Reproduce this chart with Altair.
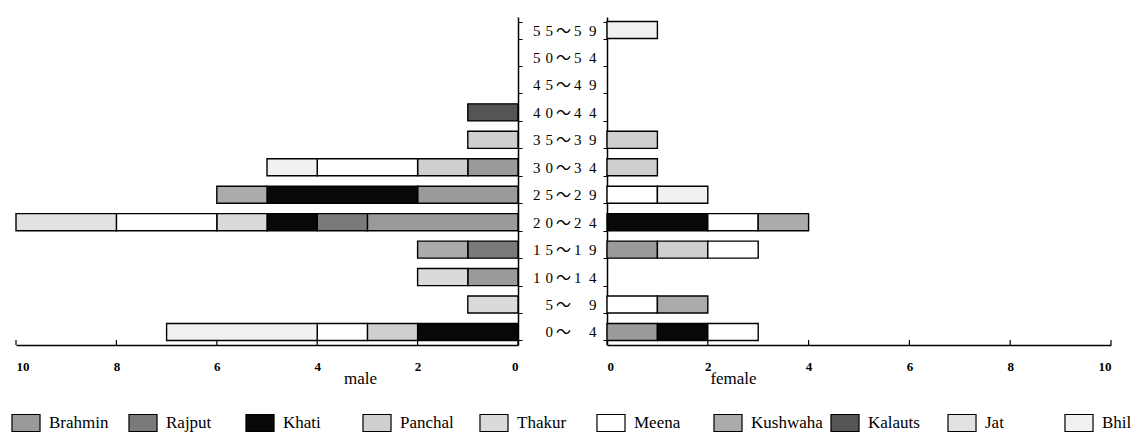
import altair as alt
import pandas as pd

# ---------------- data ----------------
age_groups = ["0~4", "5~9", "10~14", "15~19", "20~24", "25~29",
              "30~34", "35~39", "40~44", "45~49", "50~54", "55~59"]
castes = ["Brahmin", "Rajput", "Khati", "Panchal", "Thakur",
          "Meena", "Kushwaha", "Kalauts", "Jat", "Bhil"]
caste_fills = ["#9a9a9a", "#7a7a7a", "#080808", "#cfcfcf", "#dadada",
               "#ffffff", "#ababab", "#555555", "#e2e2e2", "#f1f1f1"]

# male counts by caste (age order as age_groups)
male_brahmin  = [0, 0, 1, 0, 3, 2, 1, 0, 0, 0, 0, 0]
male_rajput   = [0, 0, 0, 1, 1, 0, 0, 0, 0, 0, 0, 0]
male_khati    = [2, 0, 0, 0, 1, 3, 0, 0, 0, 0, 0, 0]
male_panchal  = [1, 0, 0, 0, 0, 0, 1, 1, 0, 0, 0, 0]
male_thakur   = [0, 1, 1, 0, 1, 0, 0, 0, 0, 0, 0, 0]
male_meena    = [1, 0, 0, 0, 2, 0, 2, 0, 0, 0, 0, 0]
male_kushwaha = [0, 0, 0, 1, 0, 1, 0, 0, 0, 0, 0, 0]
male_kalauts  = [0, 0, 0, 0, 0, 0, 0, 0, 1, 0, 0, 0]
male_jat      = [0, 0, 0, 0, 2, 0, 0, 0, 0, 0, 0, 0]
male_bhil     = [3, 0, 0, 0, 0, 0, 1, 0, 0, 0, 0, 0]

# female counts by caste
female_brahmin  = [1, 0, 0, 1, 0, 0, 0, 0, 0, 0, 0, 0]
female_rajput   = [0, 0, 0, 0, 0, 0, 0, 0, 0, 0, 0, 0]
female_khati    = [1, 0, 0, 0, 2, 0, 0, 0, 0, 0, 0, 0]
female_panchal  = [0, 0, 0, 1, 0, 0, 1, 1, 0, 0, 0, 0]
female_thakur   = [0, 0, 0, 0, 0, 0, 0, 0, 0, 0, 0, 0]
female_meena    = [1, 1, 0, 1, 1, 1, 0, 0, 0, 0, 0, 0]
female_kushwaha = [0, 1, 0, 0, 1, 0, 0, 0, 0, 0, 0, 0]
female_kalauts  = [0, 0, 0, 0, 0, 0, 0, 0, 0, 0, 0, 0]
female_jat      = [0, 0, 0, 0, 0, 0, 0, 0, 0, 0, 0, 0]
female_bhil     = [0, 0, 0, 0, 0, 1, 0, 0, 0, 0, 0, 1]

x_ticks = [0, 2, 4, 6, 8, 10]

# ---------------- helpers ----------------
T, M, E, F = "\u2009", "\u2004", "\u2002", "\u2007"


def age_label(g):
    lo, hi = g.split("~")
    left = M.join(lo)
    right = (hi[0] + E + hi[1]) if len(hi) == 2 else (F + E + hi)
    return left + T + "\uff5e" + T + right


labels = [age_label(g) for g in age_groups]
labels_top_down = labels[::-1]

male_lists = [male_brahmin, male_rajput, male_khati, male_panchal, male_thakur,
              male_meena, male_kushwaha, male_kalauts, male_jat, male_bhil]
female_lists = [female_brahmin, female_rajput, female_khati, female_panchal,
                female_thakur, female_meena, female_kushwaha, female_kalauts,
                female_jat, female_bhil]


def to_long(lists):
    rows = []
    for ci, (c, vals) in enumerate(zip(castes, lists)):
        for ai, v in enumerate(vals):
            if v > 0:
                rows.append({"age": labels[ai], "caste": c, "n": v, "ord": ci})
    return pd.DataFrame(rows)


df_m = to_long(male_lists)
df_f = to_long(female_lists)
df_t = pd.DataFrame({"t": x_ticks})
df_leg = pd.DataFrame({"caste": castes, "ord": list(range(len(castes)))})

SERIF = "Liberation Serif"
W_M, W_F, H = 502, 504, 328
LEG_PITCH, LEG_X0, LEG_Y = 117, 10, 406   # legend layout (pixels)

yscale = alt.Scale(domain=labels_top_down, paddingInner=0.38, paddingOuter=0.165)
fill_scale = alt.Scale(domain=castes, range=caste_fills)
fill_enc = alt.Fill("caste:N", scale=fill_scale, legend=None)


def xaxis(title, tx):
    return alt.Axis(values=x_ticks, format="d", ticks=False, tickSize=0,
                    labelFont=SERIF, labelFontSize=13, labelFontWeight="bold",
                    labelColor="black", labelPadding=15, grid=False,
                    domainColor="black", domainWidth=1.5,
                    title=title, titleFont=SERIF, titleFontSize=17,
                    titleFontWeight="normal", titleColor="black",
                    titleX=tx, titleY=38, titleBaseline="alphabetic",
                    titleAlign="center")


def panel(df, reverse, title, tx, yaxis, width):
    xscale = alt.Scale(domain=[0, 10], reverse=reverse, nice=False)
    bars = alt.Chart(df).mark_bar(stroke="black", strokeWidth=1.4).encode(
        x=alt.X("n:Q", stack="zero", scale=xscale, axis=xaxis(title, tx)),
        y=alt.Y("age:N", sort=labels_top_down, scale=yscale, axis=yaxis),
        fill=fill_enc,
        order=alt.Order("ord:Q"),
    )
    ticks = alt.Chart(df_t).mark_rule(color="black", strokeWidth=1.2).encode(
        x=alt.X("t:Q", scale=xscale, axis=xaxis(title, tx)),
        y=alt.value(H - 5), y2=alt.value(H),
    )
    return alt.layer(bars, ticks)


# legend drawn as marks under the male panel, one slot per caste
leg_scale = alt.Scale(domain=[-LEG_X0 / LEG_PITCH, (W_M - LEG_X0) / LEG_PITCH],
                      nice=False, zero=False)
leg_sym = alt.Chart(df_leg).mark_point(
    shape="M-1.65,-1H1.65V1H-1.65Z", size=289, filled=True, opacity=1,
    stroke="black", strokeWidth=1.2,
).encode(
    x=alt.X("ord:Q", scale=leg_scale, axis=None),
    y=alt.value(LEG_Y),
    fill=fill_enc,
)
leg_txt = alt.Chart(df_leg).mark_text(
    align="left", baseline="middle", dx=23, font=SERIF, fontSize=17,
    color="black",
).encode(
    x=alt.X("ord:Q", scale=leg_scale, axis=None),
    y=alt.value(LEG_Y),
    text="caste:N",
)
legend_layer = alt.layer(leg_sym, leg_txt)

male = alt.layer(
    panel(df_m, True, "male", 344,
          alt.Axis(orient="right", labels=False, title=None,
                   tickBand="extent", tickSize=4, tickColor="black",
                   domainColor="black", domainWidth=1.5),
          W_M),
    legend_layer,
).resolve_scale(x="independent").properties(width=W_M, height=H)

female = panel(
    df_f, False, "female", 126,
    alt.Axis(orient="left", title=None,
             labelFont=SERIF + ", Noto Sans CJK JP",
             labelFontSize=15, labelColor="black",
             labelPadding=7, tickBand="extent", tickSize=4,
             tickColor="black", domainColor="black", domainWidth=1.5),
    W_F,
).properties(width=W_F, height=H)

chart = alt.hconcat(male, female, spacing=89, bounds="flush").resolve_scale(
    fill="shared"
).properties(
    padding={"left": 1, "top": 2, "right": 0, "bottom": 0},
    background="white",
).configure_view(stroke=None)

chart.save("out.html", embed_options={"renderer": "svg", "actions": False})
